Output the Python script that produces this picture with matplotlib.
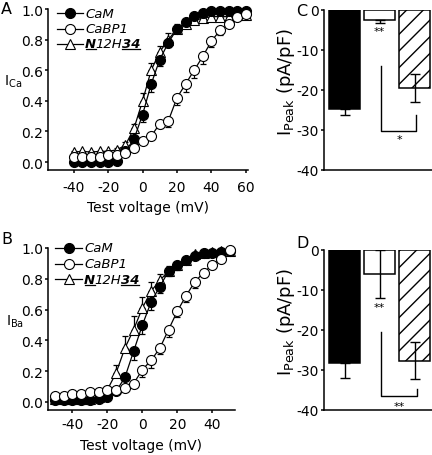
import matplotlib
matplotlib.use("Agg")
import matplotlib.pyplot as plt
from matplotlib.lines import Line2D
import numpy as np

plt.rcParams['font.family'] = ['DejaVu Sans']
plt.rcParams['axes.unicode_minus'] = False
plt.rcParams['hatch.linewidth'] = 1.0

# ---------------- data ----------------
volt_A = [-40, -35, -30, -25, -20, -15, -10, -5, 0, 5, 10, 15, 20, 25, 30, 35, 40, 45, 50, 55, 60]
cam_A = [0.00, 0.00, 0.00, 0.00, 0.00, 0.01, 0.07, 0.15, 0.31, 0.51, 0.67, 0.78, 0.87, 0.915, 0.955, 0.975, 0.99, 0.99, 0.985, 0.99, 0.99]
cam_A_err = [0.005, 0.005, 0.005, 0.005, 0.005, 0.01, 0.02, 0.03, 0.05, 0.05, 0.04, 0.03, 0.02, 0.02, 0.01, 0.01, 0.01, 0.01, 0.01, 0.01, 0.01]
cabp_A = [0.035, 0.035, 0.035, 0.035, 0.045, 0.045, 0.06, 0.09, 0.14, 0.17, 0.25, 0.27, 0.42, 0.51, 0.60, 0.69, 0.79, 0.86, 0.90, 0.95, 0.965]
cabp_A_err = [0.005, 0.005, 0.005, 0.005, 0.005, 0.005, 0.01, 0.01, 0.02, 0.02, 0.03, 0.04, 0.05, 0.05, 0.05, 0.05, 0.04, 0.03, 0.02, 0.01, 0.01]
n12_A = [0.065, 0.07, 0.065, 0.07, 0.07, 0.08, 0.11, 0.22, 0.40, 0.60, 0.72, 0.80, 0.87, 0.90, 0.925, 0.94, 0.95, 0.95, 0.95, 0.96, 0.96]
n12_A_err = [0.005, 0.005, 0.005, 0.005, 0.005, 0.01, 0.02, 0.03, 0.05, 0.05, 0.04, 0.04, 0.03, 0.02, 0.02, 0.01, 0.01, 0.01, 0.01, 0.01, 0.01]

volt_B = [-50, -45, -40, -35, -30, -25, -20, -15, -10, -5, 0, 5, 10, 15, 20, 25, 30, 35, 40, 45, 50]
cam_B = [0.01, 0.01, 0.01, 0.01, 0.015, 0.02, 0.035, 0.07, 0.16, 0.33, 0.50, 0.65, 0.75, 0.85, 0.89, 0.92, 0.95, 0.965, 0.97, 0.975, 0.98]
cam_B_err = [0.005, 0.005, 0.005, 0.005, 0.005, 0.005, 0.01, 0.02, 0.04, 0.06, 0.06, 0.05, 0.04, 0.03, 0.03, 0.02, 0.01, 0.01, 0.01, 0.01, 0.01]
cabp_B = [0.04, 0.04, 0.05, 0.05, 0.065, 0.065, 0.075, 0.075, 0.09, 0.12, 0.21, 0.27, 0.35, 0.47, 0.59, 0.69, 0.78, 0.84, 0.89, 0.93, 0.99]
cabp_B_err = [0.005, 0.005, 0.005, 0.005, 0.005, 0.005, 0.005, 0.01, 0.01, 0.02, 0.05, 0.05, 0.04, 0.05, 0.04, 0.04, 0.04, 0.03, 0.02, 0.02, 0.01]
n12_B = [0.02, 0.02, 0.02, 0.02, 0.02, 0.03, 0.08, 0.19, 0.35, 0.47, 0.61, 0.72, 0.79, 0.85, 0.89, 0.92, 0.96, 0.97, 0.975, 0.98, 0.98]
n12_B_err = [0.005, 0.005, 0.005, 0.005, 0.005, 0.01, 0.02, 0.05, 0.08, 0.09, 0.07, 0.06, 0.04, 0.03, 0.02, 0.02, 0.01, 0.01, 0.01, 0.01, 0.01]

bar_groups = ["CaM", "CaBP1", "N12H34"]
peak_C = [-24.7, -2.4, -19.5]
peak_C_err = [1.6, 0.8, 3.5]
peak_D = [-28.3, -6.0, -27.7]
peak_D_err = [3.8, 6.1, 4.6]

legend_labels = ["CaM", "CaBP1"]

# ---------------- figure ----------------
W, H = 432, 456
fig = plt.figure(figsize=(W / 100, H / 100), dpi=100)


def box(l, r, t, b):
    return [l / W, 1 - b / H, (r - l) / W, (b - t) / H]


axA = fig.add_axes(box(48, 247.5, 10, 170.7))
axB = fig.add_axes(box(48, 235, 249, 410.7))
axC = fig.add_axes(box(324, 432, 11, 171))
axD = fig.add_axes(box(324, 432, 251, 411))

LW = 1.1
for ax in (axA, axB, axC, axD):
    for s in ("top", "right"):
        ax.spines[s].set_visible(False)
    for s in ("left", "bottom"):
        ax.spines[s].set_linewidth(LW)
    ax.tick_params(direction="out", length=2.5, width=LW, labelsize=10, pad=1)
    ax.set_facecolor("none")

ms = 7.2
mew = 0.8


def iv_panel(ax, v, cam, camerr, cabp, cabperr, n12, n12err):
    zero = [0] * len(v)
    ax.errorbar(v, n12, yerr=[zero, n12err], fmt="none", ecolor="black", elinewidth=0.9, capsize=2.2, capthick=0.9, zorder=2, clip_on=False)
    ax.plot(v, n12, "-", color="black", lw=0.9, marker="^", ms=ms + 0.5, mfc="white", mec="black", mew=mew, zorder=3, clip_on=False)
    ax.errorbar(v, cam, yerr=[camerr, zero], fmt="none", ecolor="black", elinewidth=0.9, capsize=2.2, capthick=0.9, zorder=4, clip_on=False)
    ax.plot(v, cam, "-", color="black", lw=0.9, marker="o", ms=ms, mfc="black", mec="black", mew=mew, zorder=5, clip_on=False)
    ax.errorbar(v, cabp, yerr=[cabperr, zero], fmt="none", ecolor="black", elinewidth=0.9, capsize=2.2, capthick=0.9, zorder=6, clip_on=False)
    ax.plot(v, cabp, "-", color="black", lw=0.9, marker="o", ms=ms, mfc="white", mec="black", mew=mew, zorder=7, clip_on=False)
    ax.set_ylim(-0.05, 1.0)
    ax.set_yticks([0.0, 0.2, 0.4, 0.6, 0.8, 1.0])
    ax.set_yticklabels(["0.0", "0.2", "0.4", "0.6", "0.8", "1.0"])


iv_panel(axA, volt_A, cam_A, cam_A_err, cabp_A, cabp_A_err, n12_A, n12_A_err)
axA.set_xlim(-55, 61)
axA.set_xticks([-40, -20, 0, 20, 40, 60])
axA.tick_params(axis="x", pad=5)
axA.set_xlabel("Test voltage (mV)", fontsize=10, labelpad=4)
iv_panel(axB, volt_B, cam_B, cam_B_err, cabp_B, cabp_B_err, n12_B, n12_B_err)
axB.set_xlim(-54, 53)
axB.set_xticks([-40, -20, 0, 20, 40])
axB.tick_params(axis="x", pad=2.5)
axB.set_xlabel("Test voltage (mV)", fontsize=10, labelpad=5)

axA.set_ylabel("I$_{\\mathrm{Ca}}$", rotation=0, fontsize=10)
axA.yaxis.set_label_coords(-0.175, 0.50)
axB.set_ylabel("I$_{\\mathrm{Ba}}$", rotation=0, fontsize=10)
axB.yaxis.set_label_coords(-0.175, 0.50)


def bar_panel(ax, vals, errs, cam_down_only):
    x = np.arange(len(vals))
    ax.bar(x[0], vals[0], width=0.88, color="black", edgecolor="black", lw=LW, zorder=2)
    ax.bar(x[1], vals[1], width=0.88, color="white", edgecolor="black", lw=LW, zorder=2)
    ax.bar(x[2], vals[2], width=0.88, color="white", edgecolor="black", lw=LW, hatch="//", zorder=2)
    for i in range(3):
        lo = errs[i]
        hi = 0 if (i == 0 or (i == 1 and cam_down_only)) else errs[i]
        ax.errorbar(x[i], vals[i], yerr=[[lo], [hi]], fmt="none", ecolor="black", elinewidth=1.0, capsize=3.5, capthick=1.0, zorder=3)
    ax.set_xlim(-0.59, 2.5)
    ax.set_ylim(-40, 0)
    ax.set_yticks([0, -10, -20, -30, -40])
    ax.set_xticks([])
    ax.spines["bottom"].set_position(("data", -40))
    ax.set_ylabel("I$_{\\mathrm{Peak}}$ (pA/pF)", fontsize=13)
    ax.yaxis.set_label_coords(-0.25, 0.555)


bar_panel(axC, peak_C, peak_C_err, True)
bar_panel(axD, peak_D, peak_D_err, False)

bl = dict(color="black", lw=1.0, clip_on=False)
axC.plot([1.04, 1.04, 2.04, 2.04], [-14, -30.3, -30.3, -26.2], **bl)
axC.text(1.0, -5.2, "**", ha="center", va="center", fontsize=8)
axC.text(1.56, -32.3, "*", ha="center", va="center", fontsize=8)
axD.plot([1.05, 1.05, 2.07, 2.07], [-20.5, -36.5, -36.5, -34.8], **bl)
axD.text(1.0, -14.3, "**", ha="center", va="center", fontsize=8)
axD.text(1.56, -38.9, "**", ha="center", va="center", fontsize=8)

# panel letters
for lab, (px, py) in zip("ABCD", [(1, 10), (1, 240), (296, 11), (296, 243)]):
    fig.text(px / W, 1 - py / H, lab, fontsize=11.5, ha="left", va="center")

# ---------------- legends (manual) ----------------
renderer = fig.canvas.get_renderer()


def legend(rows_y, x0, x1, xt):
    styles = [dict(marker="o", mfc="black"), dict(marker="o", mfc="white"), dict(marker="^", mfc="white")]
    for y, st in zip(rows_y, styles):
        yy = 1 - y / H
        fig.add_artist(Line2D([x0 / W, x1 / W], [yy, yy], color="black", lw=0.9))
        fig.add_artist(Line2D([(x0 + x1) / 2 / W], [yy], marker=st["marker"], ms=ms + (0.5 if st["marker"] == "^" else 0),
                              mfc=st["mfc"], mec="black", mew=mew, ls="none"))
    for y, s in zip(rows_y[:2], legend_labels):
        fig.text(xt / W, 1 - y / H, s, fontsize=9.5, style="italic", ha="left", va="center")
    # third row: N12H34 with bold underlined N and 34
    y = rows_y[2]
    xpos = xt
    pieces = [("N", True), ("12H", False), ("34", True)]
    for s, bold in pieces:
        t = fig.text(xpos / W, 1 - y / H, s, fontsize=9.5, style="italic", weight="bold" if bold else "normal",
                     ha="left", va="center")
        bb = t.get_window_extent(renderer)
        if bold:
            uy = (bb.y0 + 1.0) / H
            fig.add_artist(Line2D([(bb.x0 + 0.5) / W, (bb.x1 - 0.5) / W], [uy, uy], color="black", lw=0.9))
        xpos = bb.x1 - 0.5


legend([14, 29.5, 44.5], 57, 83, 85)
legend([249, 264.5, 280], 55, 82, 84)

fig.savefig("out.png", dpi=100)
